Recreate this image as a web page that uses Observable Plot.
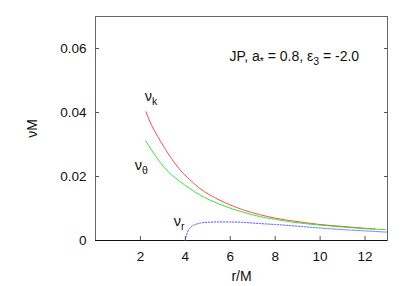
<!DOCTYPE html>
<html>
<head>
<meta charset="utf-8">
<script src="https://cdn.jsdelivr.net/npm/d3@7"></script>
<script src="https://cdn.jsdelivr.net/npm/@observablehq/plot@0.6"></script>
<style>
  html, body { margin: 0; padding: 0; background: #fff; }
  #chart { width: 409px; height: 286px; }
</style>
</head>
<body>
<div id="chart"></div>
<script>
// ---- data ----
const rK = [2.24, 2.5, 2.86, 3.25, 3.75, 4.2, 4.63, 5.1, 5.5, 6.0, 6.6, 7.3, 8.0, 8.7, 9.3, 10.0, 11.0, 12.0, 12.45];
const nuK = [0.0402, 0.0360, 0.0314, 0.0270, 0.0222, 0.0190, 0.0163, 0.0142, 0.0127, 0.0111, 0.0095, 0.0081, 0.0070, 0.0062, 0.0056, 0.0050, 0.0044, 0.0038, 0.0036];

const rTheta = [2.24, 2.5, 2.86, 3.25, 3.75, 4.2, 4.63, 5.1, 5.5, 6.0, 6.6, 7.3, 8.0, 8.7, 9.3, 10.0, 11.0, 12.0, 12.9];
const nuTheta = [0.0311, 0.0282, 0.0246, 0.0214, 0.0185, 0.0162, 0.0143, 0.0126, 0.0114, 0.0101, 0.0088, 0.0075, 0.0066, 0.0058, 0.0053, 0.0048, 0.0042, 0.0037, 0.0034];

const rR = [4.0, 4.04, 4.1, 4.18, 4.3, 4.45, 4.65, 5.0, 5.5, 6.0, 6.5, 7.3, 8.0, 9.3, 10.0, 11.0, 12.0, 13.0];
const nuR = [0.0, 0.0014, 0.0027, 0.0037, 0.0045, 0.0050, 0.0054, 0.0057, 0.0058, 0.0058, 0.0057, 0.0053, 0.0050, 0.0043, 0.0039, 0.0034, 0.0030, 0.0026];

const xTicks = [2, 4, 6, 8, 10, 12];
const yTicks = [0, 0.02, 0.04, 0.06];

const curveLabels = ["ν_{k}", "ν_{θ}", "ν_{r}"];
const curveLabelR = [2.19, 1.75, 3.48];
const curveLabelV = [0.0449, 0.0235, 0.0060];

const annotation = "JP, a_{*} = 0.8, ε_{3} = -2.0";
const annotationR = 5.97;
const annotationV = 0.0575;

const xLabel = "r/M";
const yLabel = "νM";

// ---- build tables ----
const kTable = rK.map((r, i) => ({r, v: nuK[i]}));
const thTable = rTheta.map((r, i) => ({r, v: nuTheta[i]}));
const rTable = rR.map((r, i) => ({r, v: nuR[i]}));
const lblTable = curveLabels.map((t, i) => ({t, r: curveLabelR[i], v: curveLabelV[i]}));

const font = "'Liberation Sans', Arial, Helvetica, sans-serif";

const chart = Plot.plot({
  width: 409,
  height: 286,
  marginLeft: 95,
  marginRight: 22,
  marginTop: 16,
  marginBottom: 46,
  style: {fontFamily: font, fontSize: "13.5px", background: "#fff", color: "#111"},
  x: {domain: [0, 13]},
  y: {domain: [0, 0.07]},
  marks: [
    Plot.frame({stroke: "#666", strokeWidth: 1}),
    Plot.ruleY([0], {stroke: "#111", strokeWidth: 1}),
    // tick labels
    Plot.axisY({ticks: yTicks, tickSize: 0, tickPadding: 9, tickFormat: d => d === 0 ? "0" : d.toFixed(2), label: null}),
    Plot.axisX({ticks: xTicks, tickSize: 0, tickPadding: 11, label: null}),
    // inward tick marks
    Plot.axisY({ticks: yTicks.filter(d => d > 0), tickSize: -4, text: null, label: null, stroke: "#555"}),
    Plot.axisY({anchor: "right", ticks: yTicks.filter(d => d > 0), tickSize: -4, text: null, label: null, stroke: "#555"}),
    Plot.axisX({ticks: xTicks, tickSize: -4, text: null, label: null, stroke: "#555"}),
    // curves
    Plot.line(kTable, {x: "r", y: "v", stroke: "#ff3a3a", strokeWidth: 0.9, curve: "monotone-x"}),
    Plot.line(thTable, {x: "r", y: "v", stroke: "#22e022", strokeWidth: 0.9, curve: "monotone-x"}),
    Plot.line(rTable, {x: "r", y: "v", stroke: "#4848ff", strokeWidth: 0.9, strokeDasharray: "1.5,1.5", curve: "monotone-x"}),
    // labels
    Plot.text(lblTable, {x: "r", y: "v", text: "t", textAnchor: "start", fontSize: 14.5}),
    Plot.text([annotation], {x: () => annotationR, y: () => annotationV, text: d => d, textAnchor: "start", fontSize: 14}),
    // axis titles
    Plot.text([xLabel], {x: () => 6.5, y: () => 0, text: d => d, dy: 36, fontSize: 14}),
    Plot.text([yLabel], {x: () => 0, y: () => 0.035, text: d => d, dx: -63, rotate: -90, fontSize: 14})
  ]
});

// convert "_{...}" markup into subscript tspans
d3.select(chart).selectAll("text").each(function() {
  const el = this;
  const txt = el.textContent;
  if (!txt.includes("_{")) return;
  const parts = txt.split(/(_\{[^}]*\})/).filter(s => s.length);
  while (el.firstChild) el.removeChild(el.firstChild);
  let shifted = false;
  parts.forEach(p => {
    const ts = document.createElementNS("http://www.w3.org/2000/svg", "tspan");
    if (p.startsWith("_{")) {
      ts.textContent = p.slice(2, -1);
      ts.setAttribute("font-size", "10.5");
      ts.setAttribute("dy", "4");
      shifted = true;
    } else {
      ts.textContent = p;
      if (shifted) { ts.setAttribute("dy", "-4"); shifted = false; }
    }
    el.appendChild(ts);
  });
});

document.getElementById("chart").appendChild(chart);
</script>
</body>
</html>
